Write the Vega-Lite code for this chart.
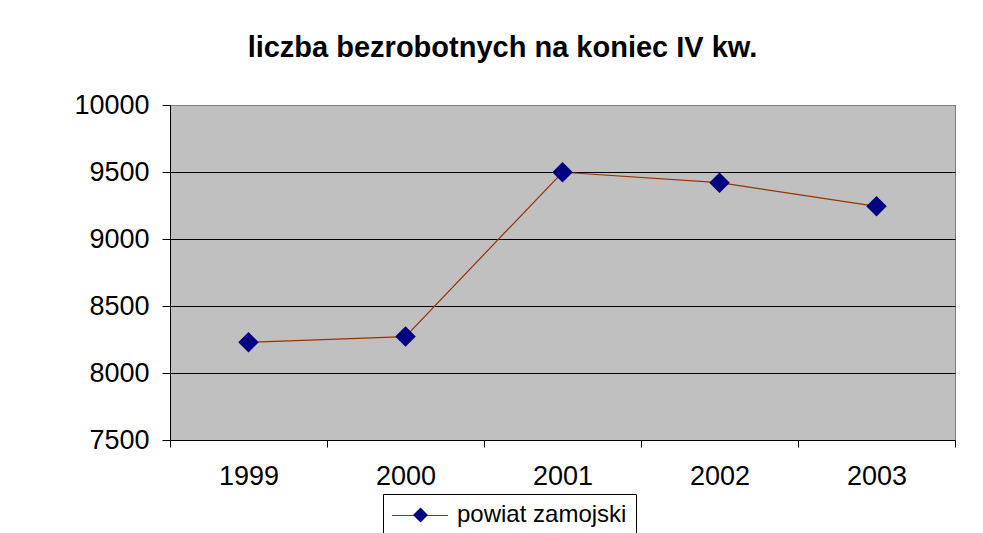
{
  "$schema": "https://vega.github.io/schema/vega-lite/v6.json",
  "autosize": "none",
  "width": 785,
  "height": 335,
  "padding": {"left": 170, "top": 105, "right": 28, "bottom": 93},
  "background": "white",
  "title": {
    "text": "liczba bezrobotnych na koniec IV kw.",
    "font": "Liberation Sans",
    "fontSize": 29,
    "fontWeight": "bold",
    "color": "black",
    "anchor": "middle",
    "frame": "group",
    "baseline": "alphabetic",
    "dx": -60,
    "offset": 5
  },
  "data": {
    "values": [
      {"rok": "1999", "liczba": 8229},
      {"rok": "2000", "liczba": 8272},
      {"rok": "2001", "liczba": 9498},
      {"rok": "2002", "liczba": 9420},
      {"rok": "2003", "liczba": 9244}
    ]
  },
  "encoding": {
    "x": {
      "field": "rok",
      "type": "nominal",
      "scale": {"type": "band", "paddingInner": 0, "paddingOuter": 0},
      "axis": {
        "title": null,
        "labelAngle": 0,
        "grid": false,
        "tickBand": "extent",
        "tickSize": 7,
        "tickColor": "black",
        "domainColor": "black",
        "labelColor": "black",
        "labelFont": "Liberation Sans",
        "labelFontSize": 27,
        "labelPadding": 16
      }
    },
    "y": {
      "field": "liczba",
      "type": "quantitative",
      "scale": {"domain": [7500, 10000], "nice": false, "zero": false},
      "axis": {
        "title": null,
        "format": "d",
        "values": [7500, 8000, 8500, 9000, 9500, 10000],
        "grid": true,
        "gridColor": {"condition": {"test": "datum.value === 10000", "value": "#808080"}, "value": "black"},
        "gridOpacity": 1,
        "tickSize": 8,
        "tickColor": "black",
        "domainColor": "black",
        "labelColor": "black",
        "labelFont": "Liberation Sans",
        "labelFontSize": 27,
        "labelPadding": 13
      }
    }
  },
  "layer": [
    {
      "mark": {"type": "line", "strokeWidth": 1.2},
      "encoding": {
        "stroke": {
          "datum": "linia",
          "scale": {"range": ["#993300"]},
          "legend": {
            "title": null,
            "orient": "none",
            "legendX": 222,
            "legendY": 402,
            "symbolType": "M-1.133,0L6.333,0",
            "symbolSize": 225,
            "symbolStrokeWidth": 1.2,
            "symbolFillColor": "transparent",
            "labelExpr": "''",
            "labelFontSize": 1,
            "padding": 0,
            "zindex": 1
          }
        }
      }
    },
    {
      "mark": {"type": "point", "shape": "diamond", "filled": true, "size": 420, "opacity": 1},
      "encoding": {
        "fill": {
          "datum": "powiat zamojski",
          "scale": {"range": ["#000080"]},
          "legend": {
            "title": null,
            "orient": "none",
            "legendX": 213,
            "legendY": 389,
            "symbolType": "M2.2,-1L3.2,0L2.2,1L1.2,0Z",
            "symbolSize": 225,
            "symbolStrokeWidth": 0,
            "symbolOpacity": 1,
            "labelFont": "Liberation Sans",
            "labelFontSize": 24,
            "labelColor": "black",
            "labelOffset": 41,
            "labelLimit": 400,
            "strokeColor": "black",
            "padding": 9,
            "zindex": 2
          }
        }
      }
    }
  ],
  "config": {
    "view": {"fill": "#C0C0C0", "stroke": "#808080", "strokeWidth": 1}
  }
}
